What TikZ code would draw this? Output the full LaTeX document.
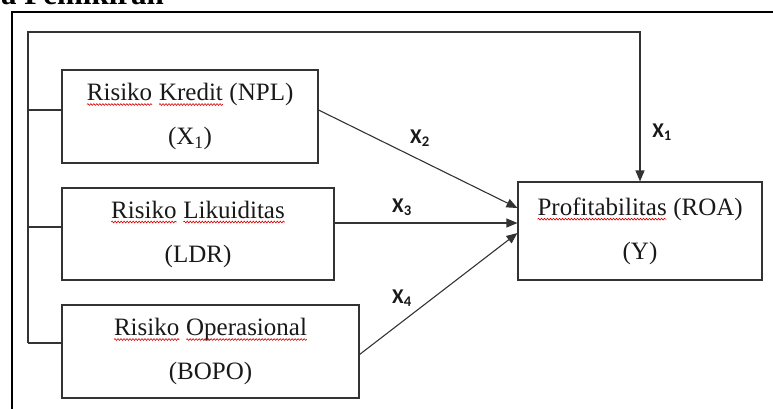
\documentclass[tikz,border=0pt]{standalone}
\usepackage{fontspec}
\setmainfont{Liberation Serif}
\newfontfamily\labfont{Carlito}
\usetikzlibrary{arrows.meta,calc,decorations.pathmorphing}
\newcommand\spell[1]{\tikz[baseline=(sw.base),x=1pt,y=1pt]{%
  \node[inner sep=0pt,outer sep=0pt,draw=none,fill=none,anchor=center,
    minimum width=0pt,minimum height=0pt,align=left] (sw) {#1};
  \draw[draw=red!85!black,line width=0.6pt,decorate,
    decoration={snake,amplitude=0.9pt,segment length=3pt}]
    ([yshift=-4pt]sw.base west) -- ([yshift=-4pt]sw.base east);}}
\begin{document}
\begin{tikzpicture}[x=1pt,y=-1pt,
  box/.style={draw=black!80,line width=1.1pt,inner sep=0pt,align=center,
    font=\fontsize{25}{44}\selectfont,text=black!90},
  conn/.style={draw=black!80,line width=1.1pt},
  arr/.style={conn,-{Triangle[length=11pt,width=9pt]}},
  lab/.style={font=\labfont\bfseries\fontsize{21}{22}\selectfont,inner sep=0pt,text=black!90}]
\useasboundingbox (0,0) rectangle (773,408);
\clip (0,0) rectangle (773,408);
% cropped heading
\node[anchor=base west,font=\bfseries\fontsize{31}{31}\selectfont,inner sep=0pt] (title) at (1,4.5) {a Pemikiran};
% outer frame
\draw[line width=1.5pt] (12,440) -- (12,12) -- (800,12);
% boxes
\node[box,minimum width=256pt,minimum height=93pt] (k) at (190,116.5)
  {\spell{Risiko} \spell{Kredit} (NPL)\\(X\textsubscript{1})};
\node[box,minimum width=272pt,minimum height=92pt] (l) at (198,234)
  {\spell{Risiko} \spell{Likuiditas}\\(LDR)};
\node[box,minimum width=297pt,minimum height=93pt] (b) at (210.5,351.5)
  {\spell{Risiko} \spell{Operasional}\\(BOPO)};
\node[box,minimum width=244pt,minimum height=98pt] (p) at (640,231)
  {\spell{Profitabilitas} (ROA)\\(Y)};
% bus on the left
\coordinate (kw) at ($(k.west)+(0,-6.5)$);
\coordinate (lw) at ($(l.west)+(0,-7)$);
\coordinate (bw) at ($(b.west)+(0,-8.5)$);
\coordinate (top) at (28,32);
\coordinate (bot) at (top |- bw);
\draw[conn] (kw) -- (top |- kw);
\draw[conn] (lw) -- (top |- lw);
\draw[conn] (bw) -- (bot);
\draw[arr] (bot) -- (top) -- (top -| p.north) -- (p.north);
% arrows into Y
\draw[arr] ($(k.east)+(0,-6.5)$) -- ($(p.west)+(0,-23)$);
\draw[arr] ($(l.east)+(0,-11)$) -- ($(p.west)+(0,-8)$);
\draw[arr] ($(b.east)+(0,3)$) -- ($(p.west)+(0,2)$);
% labels
\node[lab] (x1) at (662,132) {X\textsubscript{1}};
\node[lab] (x2) at (420,138) {X\textsubscript{2}};
\node[lab] (x3) at (402,207) {X\textsubscript{3}};
\node[lab] (x4) at (402,298) {X\textsubscript{4}};
\end{tikzpicture}
\end{document}
